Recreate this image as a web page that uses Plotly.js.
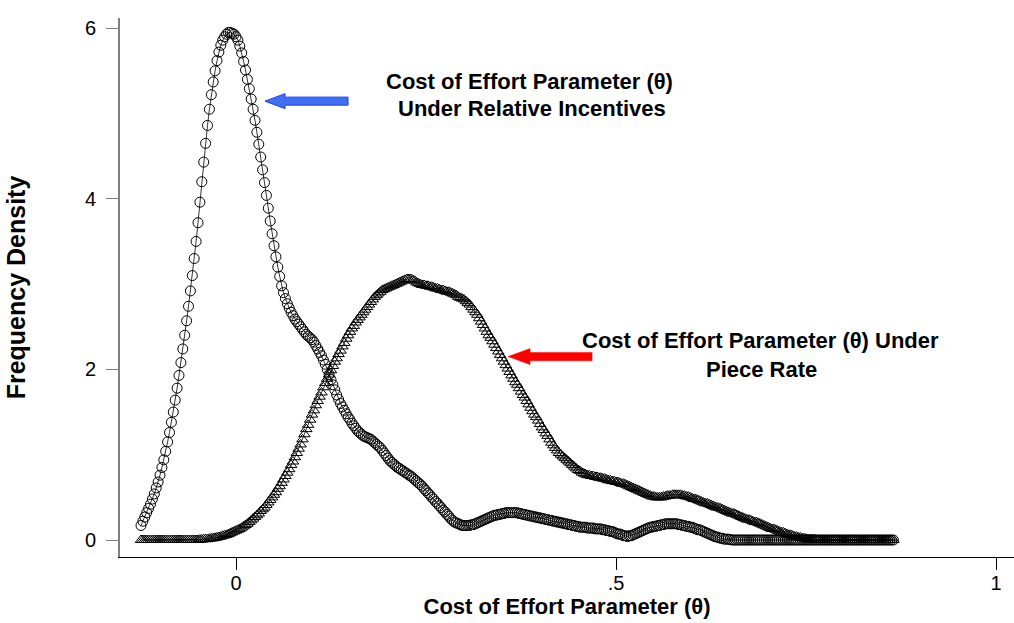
<!DOCTYPE html>
<html><head><meta charset="utf-8">
<script src="https://cdn.plot.ly/plotly-3.0.1.min.js"></script>
<style>html,body{margin:0;padding:0;background:#fff}#chart{width:1014px;height:623px}</style>
</head><body><div id="chart"></div>
<script>
// evaluation grid of the kernel density (first point and spacing)
const gridStart = -0.125;
const gridStep = 0.0025;

// Density of cost-of-effort parameter under relative incentives (circles)
const relativeIncentives = [
0.17,0.22,0.27,0.32,0.37,0.42,0.48,0.54,0.61,0.68,0.76,0.85,0.94,1.04,1.15,1.26,1.38,1.50,1.64,1.78,
1.93,2.08,2.24,2.40,2.57,2.74,2.92,3.10,3.30,3.50,3.72,3.96,4.20,4.43,4.65,4.86,5.05,5.22,5.37,5.50,
5.62,5.72,5.80,5.86,5.90,5.93,5.95,5.95,5.94,5.93,5.90,5.86,5.79,5.71,5.61,5.51,5.40,5.29,5.17,5.05,
4.92,4.78,4.64,4.49,4.34,4.19,4.04,3.89,3.74,3.59,3.45,3.32,3.20,3.09,2.98,2.90,2.83,2.77,2.72,2.67,
2.63,2.59,2.56,2.53,2.50,2.47,2.44,2.41,2.39,2.37,2.35,2.32,2.28,2.24,2.20,2.16,2.11,2.06,2.00,1.94,
1.88,1.82,1.76,1.70,1.65,1.60,1.56,1.52,1.48,1.44,1.41,1.37,1.34,1.31,1.28,1.26,1.24,1.22,1.21,1.20,
1.19,1.18,1.16,1.14,1.12,1.10,1.08,1.05,1.02,0.99,0.96,0.93,0.91,0.89,0.87,0.85,0.84,0.82,0.81,0.79,
0.78,0.76,0.75,0.73,0.71,0.69,0.67,0.65,0.63,0.60,0.58,0.55,0.53,0.50,0.48,0.45,0.43,0.40,0.38,0.35,
0.33,0.30,0.28,0.25,0.23,0.21,0.20,0.19,0.18,0.17,0.17,0.17,0.17,0.17,0.18,0.18,0.19,0.20,0.21,0.22,
0.23,0.24,0.25,0.26,0.27,0.28,0.29,0.29,0.30,0.30,0.31,0.31,0.32,0.32,0.32,0.32,0.32,0.32,0.32,0.31,
0.31,0.30,0.30,0.29,0.29,0.28,0.28,0.27,0.27,0.26,0.26,0.25,0.25,0.24,0.24,0.23,0.23,0.22,0.22,0.21,
0.21,0.20,0.20,0.19,0.19,0.18,0.18,0.17,0.17,0.16,0.16,0.15,0.15,0.15,0.15,0.14,0.14,0.14,0.14,0.13,
0.13,0.13,0.13,0.12,0.12,0.11,0.11,0.10,0.10,0.09,0.08,0.07,0.07,0.06,0.05,0.05,0.04,0.05,0.05,0.06,
0.07,0.08,0.09,0.10,0.11,0.12,0.13,0.14,0.15,0.15,0.16,0.16,0.17,0.17,0.18,0.18,0.19,0.19,0.19,0.19,
0.19,0.19,0.19,0.18,0.18,0.17,0.17,0.16,0.16,0.15,0.15,0.14,0.13,0.12,0.12,0.11,0.10,0.09,0.08,0.07,
0.06,0.05,0.04,0.035,0.03,0.02,0.02,0.01,0.01,0.01,0.005,0,0,0,0,0,0,0,0,0,
0,0,0,0,0,0,0,0,0,0,0,0,0,0,0,0,0,0,0,0,
0,0,0,0,0,0,0,0,0,0,0,0,0,0,0,0,0,0,0,0,
0,0,0,0,0,0,0,0,0,0,0,0,0,0,0,0,0,0,0,0,
0,0,0,0,0,0,0,0,0,0,0,0,0,0,0,0,0
];

// Density of cost-of-effort parameter under piece rate (triangles)
const pieceRate = [
0,0,0,0,0,0,0,0,0,0,0,0,0,0,0,0,0,0,0,0,
0,0,0,0,0,0,0,0,0,0,0,0.005,0.005,0.01,0.01,0.01,0.015,0.02,0.02,0.025,
0.03,0.035,0.04,0.05,0.055,0.06,0.07,0.08,0.09,0.10,0.11,0.12,0.13,0.145,0.16,0.175,0.19,0.21,0.23,0.25,
0.27,0.29,0.31,0.34,0.36,0.38,0.41,0.44,0.47,0.50,0.53,0.56,0.60,0.63,0.67,0.71,0.75,0.79,0.83,0.88,
0.92,0.97,1.02,1.07,1.12,1.18,1.24,1.30,1.35,1.41,1.47,1.52,1.58,1.63,1.68,1.73,1.79,1.84,1.89,1.94,
1.99,2.04,2.09,2.13,2.18,2.22,2.27,2.31,2.36,2.40,2.44,2.48,2.51,2.55,2.58,2.61,2.64,2.67,2.70,2.73,
2.76,2.79,2.82,2.85,2.87,2.89,2.91,2.93,2.94,2.95,2.96,2.97,2.98,2.99,3.00,3.01,3.02,3.03,3.04,3.05,
3.06,3.06,3.06,3.05,3.04,3.02,3.01,3.00,2.99,2.99,2.98,2.98,2.97,2.97,2.96,2.95,2.95,2.94,2.93,2.93,
2.92,2.91,2.91,2.90,2.89,2.88,2.87,2.85,2.84,2.83,2.82,2.80,2.78,2.76,2.73,2.70,2.67,2.64,2.60,2.56,
2.52,2.48,2.44,2.40,2.37,2.33,2.29,2.25,2.21,2.17,2.13,2.09,2.05,2.01,1.97,1.93,1.89,1.85,1.82,1.78,
1.74,1.70,1.67,1.63,1.59,1.55,1.51,1.47,1.44,1.40,1.36,1.32,1.29,1.25,1.22,1.18,1.14,1.11,1.08,1.05,
1.02,1.00,0.98,0.96,0.94,0.92,0.90,0.88,0.86,0.84,0.82,0.81,0.79,0.78,0.77,0.76,0.76,0.75,0.75,0.74,
0.74,0.73,0.73,0.72,0.72,0.71,0.70,0.70,0.69,0.69,0.68,0.68,0.67,0.66,0.66,0.65,0.64,0.63,0.62,0.61,
0.60,0.59,0.58,0.57,0.56,0.55,0.54,0.53,0.52,0.51,0.51,0.50,0.50,0.50,0.50,0.51,0.51,0.52,0.52,0.52,
0.53,0.53,0.53,0.53,0.53,0.52,0.52,0.51,0.51,0.50,0.49,0.48,0.48,0.47,0.46,0.45,0.44,0.43,0.43,0.42,
0.41,0.40,0.39,0.38,0.38,0.37,0.36,0.35,0.34,0.33,0.32,0.31,0.31,0.30,0.29,0.28,0.27,0.26,0.25,0.24,
0.24,0.23,0.22,0.21,0.21,0.20,0.19,0.18,0.17,0.16,0.15,0.14,0.13,0.13,0.12,0.11,0.10,0.09,0.09,0.08,
0.07,0.06,0.06,0.05,0.04,0.04,0.03,0.03,0.02,0.02,0.015,0.01,0.01,0.01,0.005,0.005,0,0,0,0,
0,0,0,0,0,0,0,0,0,0,0,0,0,0,0,0,0,0,0,0,
0,0,0,0,0,0,0,0,0,0,0,0,0,0,0,0,0
];

const xTickVals = [0, 0.5, 1];
const xTickText = ['0', '.5', '1'];
const yTickVals = [0, 2, 4, 6];
const yTickText = ['0', '2', '4', '6'];
const xTitle = 'Cost of Effort Parameter (θ)';
const yTitle = 'Frequency Density';
const labelRelative = ['Cost of Effort Parameter (θ)', 'Under Relative Incentives'];
const labelPiece = ['Cost of Effort Parameter (θ) Under', 'Piece Rate'];
// annotation anchors (data units)
const labelRelPos = [[0.3868, 5.37], [0.3895, 5.06]];
const labelPiecePos = [[0.6895, 2.34], [0.6908, 2.00]];
const blueTip = [0.0382, 5.145];
const redTip = [0.358, 2.15];

const FONT = 'Liberation Sans, Arial, Helvetica, sans-serif';

const traces = [
  {
    type: 'scatter', mode: 'lines+markers', name: 'Relative incentives',
    x0: gridStart, dx: gridStep, y: relativeIncentives,
    line: {color: '#000', width: 0.8},
    marker: {symbol: 'circle-open', size: 10, color: '#000', line: {width: 1, color: '#000'}},
    cliponaxis: false
  },
  {
    type: 'scatter', mode: 'lines+markers', name: 'Piece rate',
    x0: gridStart, dx: gridStep, y: pieceRate,
    line: {color: '#000', width: 0.8},
    marker: {symbol: 'triangle-up-open', size: 10, color: '#000', line: {width: 1, color: '#000'}},
    cliponaxis: false
  }
];

function txt(t, p) {
  return {text: t, x: p[0], y: p[1], xref: 'x', yref: 'y', showarrow: false,
    xanchor: 'center', yanchor: 'middle',
    font: {family: FONT, size: 22, color: '#000', weight: 'bold'}};
}

const layout = {
  width: 1014, height: 623,
  margin: {l: 120, r: 0, t: 18, b: 66, pad: 0},
  paper_bgcolor: '#fff', plot_bgcolor: '#fff',
  showlegend: false,
  font: {family: FONT, color: '#000'},
  xaxis: {
    range: [-0.15263, 1.02368], zeroline: false, showgrid: false,
    showline: true, linecolor: '#000', linewidth: 1.3,
    ticks: 'outside', ticklen: 12, tickcolor: '#000', tickwidth: 1,
    tickvals: xTickVals, ticktext: xTickText,
    tickfont: {family: FONT, size: 20, color: '#000'},
    ticklabelstandoff: -4,
    title: {text: xTitle, font: {family: FONT, size: 22, color: '#000', weight: 'bold'}, standoff: 4}
  },
  yaxis: {
    range: [-0.1993, 6.1196], zeroline: false, showgrid: false,
    showline: true, linecolor: '#808080', linewidth: 2,
    ticks: 'outside', ticklen: 12, tickcolor: '#808080', tickwidth: 1,
    tickvals: yTickVals, ticktext: yTickText,
    tickfont: {family: FONT, size: 20, color: '#000'},
    ticklabelstandoff: 6,
    title: {text: yTitle, font: {family: FONT, size: 25, color: '#000', weight: 'bold'}, standoff: 52}
  },
  annotations: [
    txt(labelRelative[0], labelRelPos[0]), txt(labelRelative[1], labelRelPos[1]),
    txt(labelPiece[0], labelPiecePos[0]), txt(labelPiece[1], labelPiecePos[1])
  ],
  shapes: [
    {type: 'path', xref: 'x', yref: 'y', xsizemode: 'pixel', ysizemode: 'pixel',
     xanchor: blueTip[0], yanchor: blueTip[1], layer: 'above',
     path: 'M0,0L20,-7.5L20,-4L83,-4L83,4L20,4L20,7.5Z',
     fillcolor: '#3f6ff2', line: {color: '#1f3ff0', width: 1}},
    {type: 'path', xref: 'x', yref: 'y', xsizemode: 'pixel', ysizemode: 'pixel',
     xanchor: redTip[0], yanchor: redTip[1], layer: 'above',
     path: 'M0,0L22,-8L22,-4.2L84,-4.2L84,4.2L22,4.2L22,8Z',
     fillcolor: '#ff0000', line: {color: '#ff0000', width: 0.5}}
  ]
};

Plotly.newPlot('chart', traces, layout, {displayModeBar: false, staticPlot: true});
</script>
</body></html>
